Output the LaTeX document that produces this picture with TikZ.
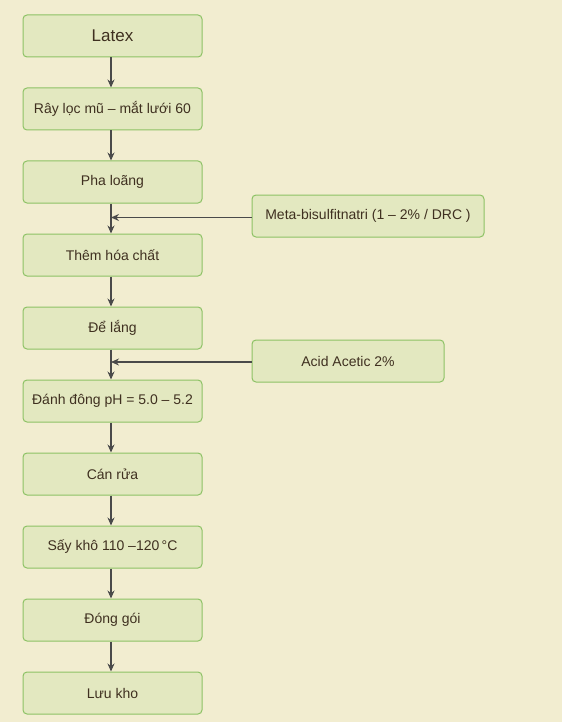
\documentclass[tikz,border=0pt]{standalone}
\usepackage{fontspec}
\setmainfont{Liberation Sans}
\usetikzlibrary{positioning,arrows.meta}
\definecolor{nen}{HTML}{F2EDD0}
\definecolor{hop}{HTML}{E3E8C0}
\definecolor{vien}{HTML}{8DC265}
\definecolor{chu}{HTML}{3F3020}
\definecolor{muiten}{HTML}{4A4A4A}
\begin{document}
\begin{tikzpicture}[x=1pt,y=-1pt,node distance=30pt,
	buoc/.style={draw=vien,fill=hop,rounded corners=4pt,line width=1pt,minimum width=179pt,minimum height=42pt,text=chu,font=\fontsize{14}{16}\selectfont,inner sep=0pt},
	phu/.style={buoc,minimum width=#1},
	noi/.style={draw=muiten,line width=1.5pt,-{Stealth[length=8pt,width=7pt]}}]
	\fill[nen] (0,0) rectangle (562,722);
	\useasboundingbox (0,0) rectangle (562,722);
	% day chinh
	\node[buoc,font=\fontsize{17}{19}\selectfont] (latex) at (112.5,36) {Latex};
	\node[buoc,below=of latex] (ray) {Rây lọc mũ – mắt lưới 60};
	\node[buoc,below=of ray] (phaloang) {Pha loãng};
	\node[buoc,below=of phaloang] (them) {Thêm hóa chất};
	\node[buoc,below=of them] (delang) {Để lắng};
	\node[buoc,below=of delang] (danhdong) {Đánh đông pH = 5.0 – 5.2};
	\node[buoc,below=of danhdong] (canrua) {Cán rửa};
	\node[buoc,below=of canrua] (say) {Sấy khô 110 –120\,°C};
	\node[buoc,below=of say] (donggoi) {Đóng gói};
	\node[buoc,below=of donggoi] (luukho) {Lưu kho};
	% hoa chat them vao
	\node[phu=232pt] (meta) at (368,216) {Meta-bisulfitnatri (1 – 2\% / DRC )};
	\node[phu=192pt] (acid) at (348,361) {Acid Acetic 2\%};
	% mui ten
	\foreach \a/\b in {latex/ray,ray/phaloang,phaloang/them,them/delang,delang/danhdong,danhdong/canrua,canrua/say,say/donggoi,donggoi/luukho}
		\draw[noi] ([xshift=-1.5pt]\a.south) -- ([xshift=-1.5pt]\b.north);
	\draw[noi] ([yshift=-1.5pt]meta.west) -- ([yshift=-1.5pt,xshift=-1.5pt]meta.west -| phaloang.south);
	\draw[noi] ([yshift=-1pt]acid.west) -- ([yshift=-1pt,xshift=-1.5pt]acid.west -| delang.south);
\end{tikzpicture}
\end{document}
